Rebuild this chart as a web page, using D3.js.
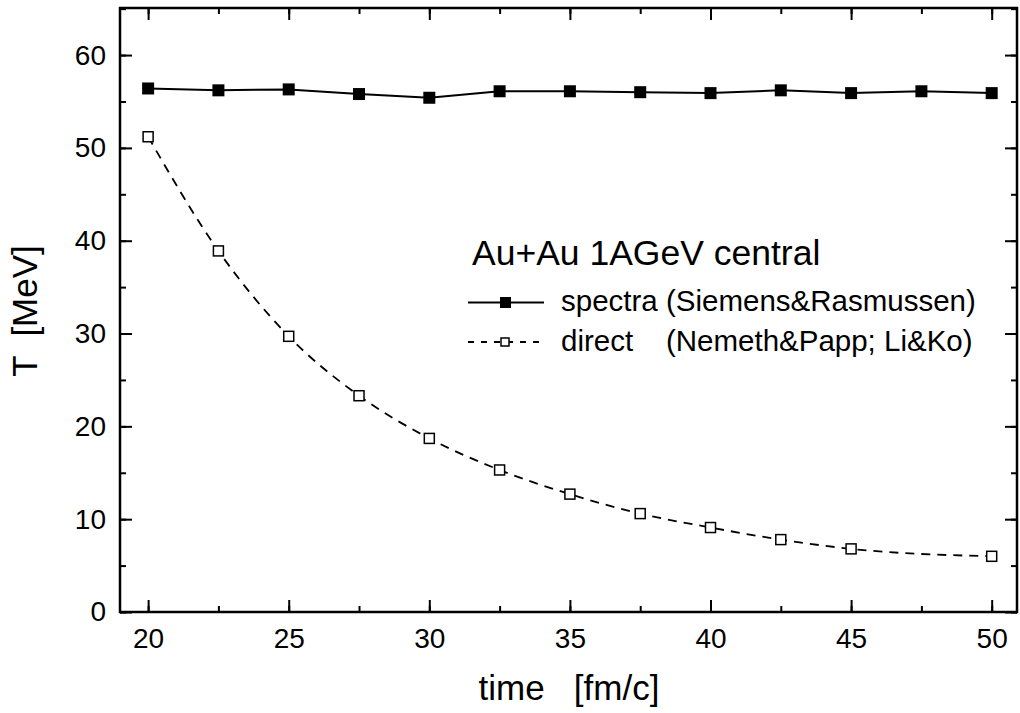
<!DOCTYPE html>
<html>
<head>
<meta charset="utf-8">
<script src="https://cdn.jsdelivr.net/npm/d3@7"></script>
<style>
  body { margin: 0; background: #fff; }
  svg { font-family: "Liberation Sans", Arial, sans-serif; }
</style>
</head>
<body>
<div id="chart"></div>
<script>
var ancho = 1020, alto = 713;

// data
var tiempo_spectra = [20, 22.5, 25, 27.5, 30, 32.5, 35, 37.5, 40, 42.5, 45, 47.5, 50];
var T_spectra = [56.4, 56.2, 56.3, 55.8, 55.4, 56.1, 56.1, 56.0, 55.9, 56.2, 55.9, 56.1, 55.9];
var tiempo_direct = [20, 22.5, 25, 27.5, 30, 32.5, 35, 37.5, 40, 42.5, 45, 50];
var T_direct = [51.2, 38.9, 29.7, 23.3, 18.7, 15.3, 12.7, 10.6, 9.1, 7.8, 6.8, 6.0];
var xticks = [20, 25, 30, 35, 40, 45, 50];
var yticks = [0, 10, 20, 30, 40, 50, 60];

var izq = 120, der = 1017, arriba = 8, abajo = 612;
var fuente = "Liberation Sans, Arial, sans-serif";

var svg = d3.select("#chart").append("svg")
    .attr("width", ancho)
    .attr("height", alto);

var x = d3.scaleLinear().domain([19, 50.9]).range([izq, der]);
var y = d3.scaleLinear().domain([0, 65.07]).range([abajo, arriba]);

var xmenor = d3.range(20, 51, 2.5);
var ymenor = d3.range(0, 66, 5);

// frame
svg.append("rect")
    .attr("x", izq).attr("y", arriba)
    .attr("width", der - izq).attr("height", abajo - arriba)
    .attr("fill", "none").attr("stroke", "#000").attr("stroke-width", 2.5);

// axes: ticks pointing inward, on all four sides
function eje(g, gen) {
    g.call(gen);
    g.select(".domain").remove();
    g.selectAll("line").attr("stroke", "#000").attr("stroke-width", 2);
    g.selectAll("text").attr("font-size", 28).attr("fill", "#000").attr("font-family", fuente);
}

svg.append("g").attr("transform", "translate(0," + abajo + ")")
    .call(eje, d3.axisBottom(x).tickValues(xmenor).tickSize(-6).tickFormat(""));
svg.append("g").attr("transform", "translate(0," + abajo + ")")
    .call(eje, d3.axisBottom(x).tickValues(xticks).tickSize(-12).tickPadding(16).tickFormat(d3.format("d")));

svg.append("g").attr("transform", "translate(0," + arriba + ")")
    .call(eje, d3.axisTop(x).tickValues(xmenor).tickSize(-6).tickFormat(""));
svg.append("g").attr("transform", "translate(0," + arriba + ")")
    .call(eje, d3.axisTop(x).tickValues(xticks).tickSize(-12).tickFormat(""));

svg.append("g").attr("transform", "translate(" + izq + ",0)")
    .call(eje, d3.axisLeft(y).tickValues(ymenor).tickSize(-6).tickFormat(""));
svg.append("g").attr("transform", "translate(" + izq + ",0)")
    .call(eje, d3.axisLeft(y).tickValues(yticks).tickSize(-12).tickPadding(14).tickFormat(d3.format("d")));

svg.append("g").attr("transform", "translate(" + der + ",0)")
    .call(eje, d3.axisRight(y).tickValues(ymenor).tickSize(-6).tickFormat(""));
svg.append("g").attr("transform", "translate(" + der + ",0)")
    .call(eje, d3.axisRight(y).tickValues(yticks).tickSize(-12).tickFormat(""));

// axis titles
svg.append("text")
    .attr("x", 569).attr("y", 700)
    .attr("text-anchor", "middle")
    .attr("font-size", 35)
    .attr("xml:space", "preserve")
    .text("time   [fm/c]");

svg.append("text")
    .attr("transform", "translate(37,311) rotate(-90)")
    .attr("text-anchor", "middle")
    .attr("font-size", 35)
    .attr("xml:space", "preserve")
    .text("T  [MeV]");

// series
var spectra = tiempo_spectra.map(function (t, i) { return [t, T_spectra[i]]; });
var direct = tiempo_direct.map(function (t, i) { return [t, T_direct[i]]; });

svg.append("path")
    .datum(spectra)
    .attr("fill", "none").attr("stroke", "#000").attr("stroke-width", 2)
    .attr("d", d3.line().x(function (d) { return x(d[0]); }).y(function (d) { return y(d[1]); }));

svg.append("path")
    .datum(direct)
    .attr("fill", "none").attr("stroke", "#000").attr("stroke-width", 1.8)
    .attr("stroke-dasharray", "9,7")
    .attr("d", d3.line().curve(d3.curveMonotoneX)
        .x(function (d) { return x(d[0]); }).y(function (d) { return y(d[1]); }));

svg.selectAll("rect.spectra")
    .data(spectra)
    .enter()
    .append("rect")
    .attr("class", "spectra")
    .attr("x", function (d) { return x(d[0]) - 6; })
    .attr("y", function (d) { return y(d[1]) - 6; })
    .attr("width", 12).attr("height", 12)
    .attr("fill", "#000");

svg.selectAll("rect.direct")
    .data(direct)
    .enter()
    .append("rect")
    .attr("class", "direct")
    .attr("x", function (d) { return x(d[0]) - 5; })
    .attr("y", function (d) { return y(d[1]) - 5; })
    .attr("width", 10).attr("height", 10)
    .attr("fill", "#fff").attr("stroke", "#000").attr("stroke-width", 1.5);

// legend
svg.append("text")
    .attr("x", 472).attr("y", 265)
    .attr("font-size", 35.5)
    .text("Au+Au 1AGeV central");

var ley = svg.append("g");
ley.append("line").attr("x1", 468).attr("x2", 544).attr("y1", 302.5).attr("y2", 302.5)
    .attr("stroke", "#000").attr("stroke-width", 2);
ley.append("rect").attr("x", 500).attr("y", 297).attr("width", 11).attr("height", 11).attr("fill", "#000");
ley.append("text").attr("x", 561).attr("y", 311).attr("font-size", 29.5)
    .text("spectra (Siemens&Rasmussen)");

ley.append("line").attr("x1", 468).attr("x2", 544).attr("y1", 342).attr("y2", 342)
    .attr("stroke", "#000").attr("stroke-width", 1.8).attr("stroke-dasharray", "6,7");
ley.append("rect").attr("x", 501).attr("y", 338).attr("width", 8).attr("height", 8)
    .attr("fill", "#fff").attr("stroke", "#000").attr("stroke-width", 1.5);
ley.append("text").attr("x", 561).attr("y", 351).attr("font-size", 29.5)
    .attr("xml:space", "preserve")
    .text("direct    (Nemeth&Papp; Li&Ko)");
</script>
</body>
</html>
